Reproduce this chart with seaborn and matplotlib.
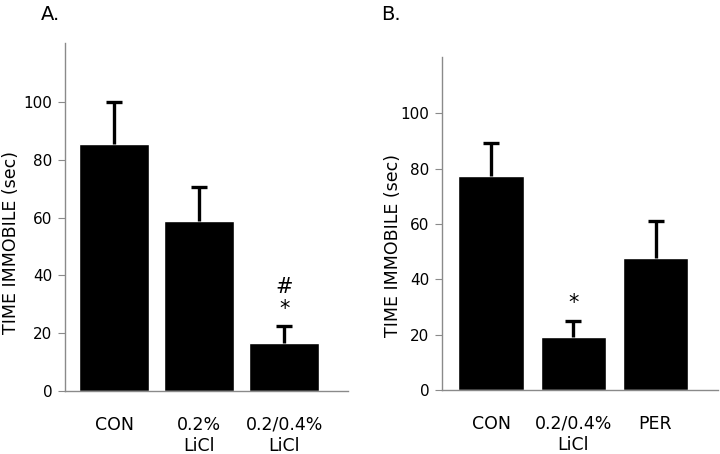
import matplotlib
matplotlib.use("Agg")
import matplotlib.pyplot as plt
import seaborn as sns
import pandas as pd

# Panel A data
groups_a = ["CON", "0.2%\nLiCl", "0.2/0.4%\nLiCl"]
means_a = [85.6, 58.9, 16.6]
err_a = [14.4, 11.6, 6.0]
marks_a = [("#", 2, 36.1), ("*", 2, 28.4)]

# Panel B data
groups_b = ["CON", "0.2/0.4%\nLiCl", "PER"]
means_b = [77.4, 19.0, 47.6]
err_b = [12.0, 5.8, 13.4]
marks_b = [("*", 1, 31.5)]

yticks = [0, 20, 40, 60, 80, 100]

sns.set_style("white")
plt.rcParams["font.family"] = ["DejaVu Sans"]
plt.rcParams["text.color"] = "black"
plt.rcParams["xtick.color"] = "black"
plt.rcParams["ytick.color"] = "black"
plt.rcParams["axes.labelcolor"] = "black"

fig = plt.figure(figsize=(7.2, 4.54), dpi=100)
ax_a = fig.add_axes([0.0903, 0.1388, 0.393, 0.7665])
ax_b = fig.add_axes([0.6139, 0.141, 0.3833, 0.7335])


def draw_panel(ax, groups, means, errs, marks, width, xlim, ytop, label_xy):
    df = pd.DataFrame({"group": groups, "time": means})
    sns.barplot(data=df, x="group", y="time", color="black", width=width,
                saturation=1, ax=ax, order=groups)
    # upper-only error bars
    _, caps, _ = ax.errorbar(range(len(groups)), means,
                             yerr=[[0] * len(errs), errs],
                             fmt="none", ecolor="black", elinewidth=2.4,
                             capsize=5.5, capthick=2.4)
    caps[0].set_visible(False)
    for sym, x, y in marks:
        ax.text(x, y, sym, ha="center", va="center", fontsize=15)
    ax.set_xlim(*xlim)
    ax.set_ylim(0, ytop)
    ax.set_yticks(yticks)
    ax.set_xlabel("")
    ax.set_ylabel("TIME IMMOBILE (sec)", fontsize=12.5)
    ax.yaxis.set_label_coords(*label_xy)
    for side in ["top", "right"]:
        ax.spines[side].set_visible(False)
    for side in ["left", "bottom"]:
        ax.spines[side].set_color("#8a8a8a")
        ax.spines[side].set_linewidth(1.0)
    ax.tick_params(axis="y", left=True, length=5, color="#8a8a8a",
                   labelcolor="black", labelsize=11, pad=4)
    ax.tick_params(axis="x", bottom=False, length=0, labelcolor="black",
                   labelsize=12.5, pad=18)


draw_panel(ax_a, groups_a, means_a, err_a, marks_a, 0.82, (-0.58, 2.75), 120.4,
           (-0.160, 0.428))
draw_panel(ax_b, groups_b, means_b, err_b, marks_b, 0.80, (-0.6, 2.76), 120.3,
           (-0.145, 0.435))

fig.text(0.057, 0.99, "A.", fontsize=14, ha="left", va="top")
fig.text(0.529, 0.99, "B.", fontsize=14, ha="left", va="top")

fig.savefig("out.png", dpi=100)
